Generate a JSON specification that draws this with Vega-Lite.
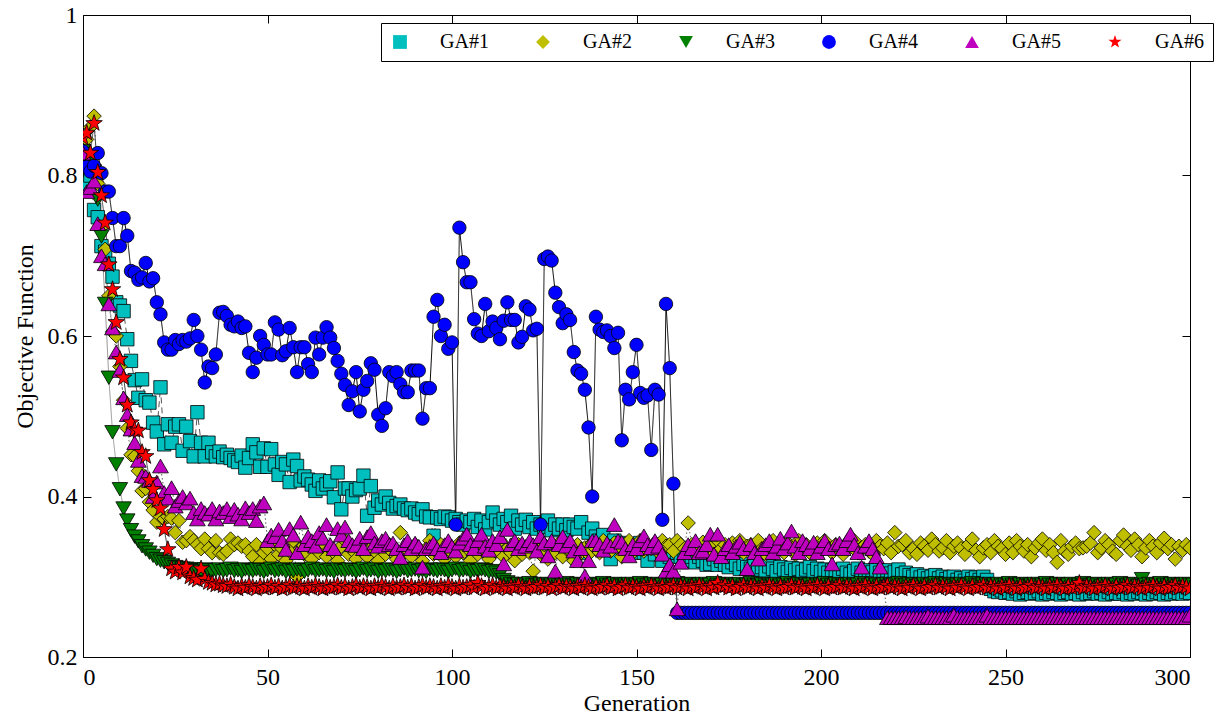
{
"$schema": "https://vega.github.io/schema/vega-lite/v6.json",
"width": 1107, "height": 642,
"autosize": {"type": "none"},
"padding": {"left": 83, "top": 15, "right": 31, "bottom": 60},
"background": "white",
"config": {
  "view": {"stroke": "black", "strokeWidth": 1},
  "font": "Liberation Serif",
  "axis": {"domainColor": "black", "domainWidth": 1, "tickColor": "black", "tickWidth": 1, "labelColor": "black", "titleColor": "black", "grid": false, "labelFont": "Liberation Serif", "titleFont": "Liberation Serif", "labelFontSize": 24, "titleFontSize": 24, "titleFontWeight": "normal", "tickSize": -8}
},
"data": {"values": [
{"g":0,"a":0.830,"b":0.830,"c":0.830,"d":0.830,"e":0.828,"f":0.847},
{"g":1,"a":0.790,"b":0.845,"c":0.822,"d":0.811,"e":0.780,"f":0.853},
{"g":2,"a":0.800,"b":0.860,"c":0.815,"d":0.805,"e":0.785,"f":0.828},
{"g":3,"a":0.757,"b":0.874,"c":0.805,"d":0.812,"e":0.793,"f":0.865},
{"g":4,"a":0.748,"b":0.790,"c":0.770,"d":0.828,"e":0.740,"f":0.804},
{"g":5,"a":0.712,"b":0.735,"c":0.724,"d":0.803,"e":0.700,"f":0.775},
{"g":6,"a":0.705,"b":0.708,"c":0.640,"d":0.780,"e":0.690,"f":0.741},
{"g":7,"a":0.690,"b":0.650,"c":0.548,"d":0.780,"e":0.640,"f":0.689},
{"g":8,"a":0.674,"b":0.605,"c":0.480,"d":0.747,"e":0.610,"f":0.658},
{"g":9,"a":0.642,"b":0.600,"c":0.440,"d":0.712,"e":0.580,"f":0.617},
{"g":10,"a":0.638,"b":0.562,"c":0.409,"d":0.712,"e":0.557,"f":0.571},
{"g":11,"a":0.631,"b":0.520,"c":0.385,"d":0.747,"e":0.523,"f":0.548},
{"g":12,"a":0.596,"b":0.485,"c":0.370,"d":0.725,"e":0.502,"f":0.514},
{"g":13,"a":0.569,"b":0.452,"c":0.358,"d":0.681,"e":0.484,"f":0.492},
{"g":14,"a":0.545,"b":0.450,"c":0.350,"d":0.679,"e":0.467,"f":0.483},
{"g":15,"a":0.523,"b":0.432,"c":0.344,"d":0.670,"e":0.445,"f":0.482},
{"g":16,"a":0.546,"b":0.407,"c":0.338,"d":0.673,"e":0.426,"f":0.455},
{"g":17,"a":0.520,"b":0.410,"c":0.334,"d":0.691,"e":0.425,"f":0.450},
{"g":18,"a":0.517,"b":0.393,"c":0.330,"d":0.668,"e":0.420,"f":0.420},
{"g":19,"a":0.492,"b":0.383,"c":0.326,"d":0.672,"e":0.400,"f":0.409},
{"g":20,"a":0.481,"b":0.368,"c":0.322,"d":0.642,"e":0.418,"f":0.395},
{"g":21,"a":0.536,"b":0.375,"c":0.320,"d":0.627,"e":0.438,"f":0.385},
{"g":22,"a":0.465,"b":0.372,"c":0.318,"d":0.592,"e":0.405,"f":0.359},
{"g":23,"a":0.490,"b":0.375,"c":0.316,"d":0.583,"e":0.398,"f":0.334},
{"g":24,"a":0.467,"b":0.373,"c":0.314,"d":0.583,"e":0.411,"f":0.310},
{"g":25,"a":0.487,"b":0.355,"c":0.312,"d":0.595,"e":0.388,"f":0.306},
{"g":26,"a":0.490,"b":0.370,"c":0.311,"d":0.590,"e":0.395,"f":0.312},
{"g":27,"a":0.457,"b":0.343,"c":0.310,"d":0.595,"e":0.400,"f":0.305},
{"g":28,"a":0.487,"b":0.345,"c":0.310,"d":0.593,"e":0.392,"f":0.312},
{"g":29,"a":0.469,"b":0.350,"c":0.309,"d":0.597,"e":0.398,"f":0.300},
{"g":30,"a":0.450,"b":0.345,"c":0.309,"d":0.620,"e":0.380,"f":0.298},
{"g":31,"a":0.505,"b":0.340,"c":0.308,"d":0.600,"e":0.372,"f":0.296},
{"g":32,"a":0.467,"b":0.335,"c":0.307,"d":0.583,"e":0.385,"f":0.310},
{"g":33,"a":0.450,"b":0.347,"c":0.309,"d":0.542,"e":0.380,"f":0.297},
{"g":34,"a":0.467,"b":0.335,"c":0.308,"d":0.562,"e":0.378,"f":0.293},
{"g":35,"a":0.455,"b":0.330,"c":0.306,"d":0.560,"e":0.385,"f":0.292},
{"g":36,"a":0.450,"b":0.345,"c":0.308,"d":0.577,"e":0.372,"f":0.290},
{"g":37,"a":0.456,"b":0.330,"c":0.309,"d":0.629,"e":0.382,"f":0.291},
{"g":38,"a":0.449,"b":0.328,"c":0.307,"d":0.630,"e":0.380,"f":0.289},
{"g":39,"a":0.452,"b":0.332,"c":0.308,"d":0.625,"e":0.385,"f":0.288},
{"g":40,"a":0.448,"b":0.347,"c":0.310,"d":0.614,"e":0.375,"f":0.290},
{"g":41,"a":0.445,"b":0.340,"c":0.307,"d":0.612,"e":0.384,"f":0.287},
{"g":42,"a":0.443,"b":0.342,"c":0.308,"d":0.618,"e":0.378,"f":0.285},
{"g":43,"a":0.451,"b":0.338,"c":0.306,"d":0.610,"e":0.372,"f":0.288},
{"g":44,"a":0.436,"b":0.340,"c":0.309,"d":0.612,"e":0.386,"f":0.286},
{"g":45,"a":0.448,"b":0.332,"c":0.308,"d":0.579,"e":0.380,"f":0.289},
{"g":46,"a":0.465,"b":0.325,"c":0.307,"d":0.555,"e":0.385,"f":0.287},
{"g":47,"a":0.455,"b":0.340,"c":0.309,"d":0.573,"e":0.370,"f":0.285},
{"g":48,"a":0.437,"b":0.318,"c":0.308,"d":0.600,"e":0.388,"f":0.288},
{"g":49,"a":0.460,"b":0.330,"c":0.306,"d":0.589,"e":0.392,"f":0.286},
{"g":50,"a":0.437,"b":0.335,"c":0.308,"d":0.577,"e":0.345,"f":0.287},
{"g":51,"a":0.459,"b":0.322,"c":0.310,"d":0.577,"e":0.352,"f":0.289},
{"g":52,"a":0.440,"b":0.340,"c":0.307,"d":0.617,"e":0.350,"f":0.286},
{"g":53,"a":0.427,"b":0.328,"c":0.308,"d":0.608,"e":0.359,"f":0.288},
{"g":54,"a":0.443,"b":0.335,"c":0.309,"d":0.576,"e":0.345,"f":0.285},
{"g":55,"a":0.440,"b":0.320,"c":0.306,"d":0.581,"e":0.334,"f":0.287},
{"g":56,"a":0.418,"b":0.332,"c":0.308,"d":0.610,"e":0.360,"f":0.289},
{"g":57,"a":0.446,"b":0.345,"c":0.307,"d":0.586,"e":0.352,"f":0.286},
{"g":58,"a":0.438,"b":0.300,"c":0.309,"d":0.555,"e":0.330,"f":0.288},
{"g":59,"a":0.420,"b":0.335,"c":0.308,"d":0.586,"e":0.368,"f":0.287},
{"g":60,"a":0.425,"b":0.328,"c":0.306,"d":0.586,"e":0.340,"f":0.285},
{"g":61,"a":0.421,"b":0.340,"c":0.308,"d":0.565,"e":0.350,"f":0.288},
{"g":62,"a":0.415,"b":0.322,"c":0.310,"d":0.555,"e":0.345,"f":0.286},
{"g":63,"a":0.407,"b":0.336,"c":0.307,"d":0.598,"e":0.338,"f":0.289},
{"g":64,"a":0.420,"b":0.330,"c":0.308,"d":0.577,"e":0.355,"f":0.287},
{"g":65,"a":0.410,"b":0.342,"c":0.309,"d":0.598,"e":0.348,"f":0.285},
{"g":66,"a":0.415,"b":0.325,"c":0.307,"d":0.611,"e":0.365,"f":0.288},
{"g":67,"a":0.419,"b":0.335,"c":0.308,"d":0.598,"e":0.340,"f":0.286},
{"g":68,"a":0.399,"b":0.330,"c":0.306,"d":0.585,"e":0.335,"f":0.287},
{"g":69,"a":0.430,"b":0.320,"c":0.309,"d":0.569,"e":0.360,"f":0.289},
{"g":70,"a":0.384,"b":0.338,"c":0.308,"d":0.553,"e":0.352,"f":0.286},
{"g":71,"a":0.410,"b":0.345,"c":0.307,"d":0.539,"e":0.362,"f":0.288},
{"g":72,"a":0.410,"b":0.328,"c":0.309,"d":0.514,"e":0.345,"f":0.285},
{"g":73,"a":0.400,"b":0.333,"c":0.308,"d":0.531,"e":0.340,"f":0.287},
{"g":74,"a":0.408,"b":0.322,"c":0.306,"d":0.555,"e":0.339,"f":0.289},
{"g":75,"a":0.410,"b":0.340,"c":0.308,"d":0.506,"e":0.348,"f":0.286},
{"g":76,"a":0.426,"b":0.330,"c":0.310,"d":0.533,"e":0.335,"f":0.288},
{"g":77,"a":0.376,"b":0.325,"c":0.307,"d":0.544,"e":0.350,"f":0.287},
{"g":78,"a":0.413,"b":0.342,"c":0.308,"d":0.566,"e":0.355,"f":0.285},
{"g":79,"a":0.386,"b":0.332,"c":0.309,"d":0.558,"e":0.342,"f":0.288},
{"g":80,"a":0.395,"b":0.320,"c":0.306,"d":0.502,"e":0.338,"f":0.286},
{"g":81,"a":0.390,"b":0.335,"c":0.308,"d":0.488,"e":0.345,"f":0.289},
{"g":82,"a":0.400,"b":0.328,"c":0.307,"d":0.510,"e":0.348,"f":0.287},
{"g":83,"a":0.392,"b":0.340,"c":0.309,"d":0.555,"e":0.340,"f":0.285},
{"g":84,"a":0.385,"b":0.330,"c":0.308,"d":0.550,"e":0.342,"f":0.288},
{"g":85,"a":0.388,"b":0.322,"c":0.306,"d":0.555,"e":0.335,"f":0.286},
{"g":86,"a":0.390,"b":0.355,"c":0.308,"d":0.540,"e":0.324,"f":0.287},
{"g":87,"a":0.385,"b":0.330,"c":0.310,"d":0.530,"e":0.340,"f":0.289},
{"g":88,"a":0.383,"b":0.338,"c":0.307,"d":0.530,"e":0.345,"f":0.286},
{"g":89,"a":0.385,"b":0.325,"c":0.308,"d":0.557,"e":0.335,"f":0.288},
{"g":90,"a":0.380,"b":0.340,"c":0.309,"d":0.557,"e":0.342,"f":0.285},
{"g":91,"a":0.378,"b":0.332,"c":0.307,"d":0.557,"e":0.338,"f":0.287},
{"g":92,"a":0.384,"b":0.320,"c":0.308,"d":0.497,"e":0.312,"f":0.289},
{"g":93,"a":0.375,"b":0.335,"c":0.306,"d":0.535,"e":0.335,"f":0.286},
{"g":94,"a":0.374,"b":0.345,"c":0.309,"d":0.535,"e":0.338,"f":0.288},
{"g":95,"a":0.351,"b":0.328,"c":0.308,"d":0.624,"e":0.342,"f":0.287},
{"g":96,"a":0.374,"b":0.330,"c":0.307,"d":0.645,"e":0.335,"f":0.285},
{"g":97,"a":0.372,"b":0.340,"c":0.309,"d":0.600,"e":0.330,"f":0.288},
{"g":98,"a":0.375,"b":0.322,"c":0.308,"d":0.614,"e":0.340,"f":0.286},
{"g":99,"a":0.374,"b":0.335,"c":0.306,"d":0.584,"e":0.345,"f":0.289},
{"g":100,"a":0.370,"b":0.330,"c":0.308,"d":0.592,"e":0.338,"f":0.287},
{"g":101,"a":0.372,"b":0.325,"c":0.310,"d":0.365,"e":0.332,"f":0.285},
{"g":102,"a":0.368,"b":0.342,"c":0.307,"d":0.735,"e":0.342,"f":0.288},
{"g":103,"a":0.365,"b":0.330,"c":0.308,"d":0.692,"e":0.348,"f":0.286},
{"g":104,"a":0.370,"b":0.336,"c":0.309,"d":0.667,"e":0.353,"f":0.287},
{"g":105,"a":0.368,"b":0.320,"c":0.306,"d":0.667,"e":0.340,"f":0.289},
{"g":106,"a":0.372,"b":0.334,"c":0.308,"d":0.621,"e":0.335,"f":0.286},
{"g":107,"a":0.362,"b":0.328,"c":0.307,"d":0.603,"e":0.345,"f":0.292},
{"g":108,"a":0.370,"b":0.340,"c":0.309,"d":0.600,"e":0.353,"f":0.288},
{"g":109,"a":0.359,"b":0.330,"c":0.308,"d":0.640,"e":0.338,"f":0.285},
{"g":110,"a":0.368,"b":0.322,"c":0.306,"d":0.606,"e":0.333,"f":0.287},
{"g":111,"a":0.380,"b":0.338,"c":0.307,"d":0.618,"e":0.345,"f":0.289},
{"g":112,"a":0.370,"b":0.332,"c":0.305,"d":0.610,"e":0.340,"f":0.286},
{"g":113,"a":0.365,"b":0.345,"c":0.302,"d":0.596,"e":0.350,"f":0.288},
{"g":114,"a":0.372,"b":0.325,"c":0.296,"d":0.619,"e":0.316,"f":0.287},
{"g":115,"a":0.368,"b":0.335,"c":0.293,"d":0.642,"e":0.359,"f":0.285},
{"g":116,"a":0.376,"b":0.330,"c":0.291,"d":0.620,"e":0.340,"f":0.288},
{"g":117,"a":0.360,"b":0.320,"c":0.290,"d":0.620,"e":0.345,"f":0.286},
{"g":118,"a":0.370,"b":0.340,"c":0.291,"d":0.592,"e":0.335,"f":0.289},
{"g":119,"a":0.365,"b":0.328,"c":0.289,"d":0.599,"e":0.342,"f":0.287},
{"g":120,"a":0.371,"b":0.335,"c":0.290,"d":0.637,"e":0.338,"f":0.285},
{"g":121,"a":0.362,"b":0.330,"c":0.292,"d":0.633,"e":0.345,"f":0.288},
{"g":122,"a":0.368,"b":0.307,"c":0.290,"d":0.607,"e":0.340,"f":0.286},
{"g":123,"a":0.360,"b":0.335,"c":0.289,"d":0.609,"e":0.332,"f":0.287},
{"g":124,"a":0.365,"b":0.328,"c":0.291,"d":0.365,"e":0.350,"f":0.289},
{"g":125,"a":0.362,"b":0.340,"c":0.290,"d":0.696,"e":0.342,"f":0.286},
{"g":126,"a":0.370,"b":0.322,"c":0.288,"d":0.699,"e":0.326,"f":0.288},
{"g":127,"a":0.358,"b":0.336,"c":0.290,"d":0.694,"e":0.345,"f":0.285},
{"g":128,"a":0.365,"b":0.330,"c":0.291,"d":0.654,"e":0.307,"f":0.287},
{"g":129,"a":0.360,"b":0.342,"c":0.289,"d":0.636,"e":0.340,"f":0.289},
{"g":130,"a":0.365,"b":0.325,"c":0.290,"d":0.616,"e":0.350,"f":0.286},
{"g":131,"a":0.358,"b":0.335,"c":0.292,"d":0.627,"e":0.338,"f":0.288},
{"g":132,"a":0.365,"b":0.332,"c":0.290,"d":0.620,"e":0.345,"f":0.287},
{"g":133,"a":0.362,"b":0.320,"c":0.289,"d":0.580,"e":0.332,"f":0.285},
{"g":134,"a":0.360,"b":0.340,"c":0.291,"d":0.557,"e":0.320,"f":0.288},
{"g":135,"a":0.368,"b":0.330,"c":0.290,"d":0.553,"e":0.335,"f":0.286},
{"g":136,"a":0.330,"b":0.336,"c":0.288,"d":0.533,"e":0.301,"f":0.289},
{"g":137,"a":0.355,"b":0.328,"c":0.290,"d":0.486,"e":0.320,"f":0.287},
{"g":138,"a":0.360,"b":0.342,"c":0.291,"d":0.400,"e":0.345,"f":0.285},
{"g":139,"a":0.350,"b":0.335,"c":0.289,"d":0.624,"e":0.345,"f":0.288},
{"g":140,"a":0.345,"b":0.330,"c":0.290,"d":0.608,"e":0.340,"f":0.286},
{"g":141,"a":0.352,"b":0.345,"c":0.292,"d":0.605,"e":0.333,"f":0.287},
{"g":142,"a":0.340,"b":0.338,"c":0.290,"d":0.607,"e":0.342,"f":0.289},
{"g":143,"a":0.322,"b":0.332,"c":0.289,"d":0.600,"e":0.338,"f":0.286},
{"g":144,"a":0.345,"b":0.342,"c":0.291,"d":0.585,"e":0.365,"f":0.288},
{"g":145,"a":0.338,"b":0.335,"c":0.290,"d":0.604,"e":0.345,"f":0.285},
{"g":146,"a":0.342,"b":0.325,"c":0.288,"d":0.470,"e":0.343,"f":0.287},
{"g":147,"a":0.335,"b":0.340,"c":0.290,"d":0.533,"e":0.335,"f":0.289},
{"g":148,"a":0.340,"b":0.345,"c":0.291,"d":0.521,"e":0.326,"f":0.286},
{"g":149,"a":0.330,"b":0.330,"c":0.289,"d":0.555,"e":0.340,"f":0.288},
{"g":150,"a":0.335,"b":0.338,"c":0.290,"d":0.589,"e":0.335,"f":0.287},
{"g":151,"a":0.342,"b":0.345,"c":0.292,"d":0.529,"e":0.345,"f":0.285},
{"g":152,"a":0.330,"b":0.332,"c":0.290,"d":0.523,"e":0.351,"f":0.288},
{"g":153,"a":0.320,"b":0.340,"c":0.289,"d":0.526,"e":0.340,"f":0.286},
{"g":154,"a":0.335,"b":0.335,"c":0.291,"d":0.458,"e":0.336,"f":0.289},
{"g":155,"a":0.328,"b":0.342,"c":0.290,"d":0.533,"e":0.345,"f":0.287},
{"g":156,"a":0.340,"b":0.330,"c":0.288,"d":0.527,"e":0.338,"f":0.285},
{"g":157,"a":0.320,"b":0.345,"c":0.290,"d":0.371,"e":0.328,"f":0.288},
{"g":158,"a":0.335,"b":0.338,"c":0.291,"d":0.640,"e":0.307,"f":0.286},
{"g":159,"a":0.325,"b":0.340,"c":0.289,"d":0.560,"e":0.315,"f":0.287},
{"g":160,"a":0.330,"b":0.332,"c":0.290,"d":0.416,"e":0.307,"f":0.289},
{"g":161,"a":0.330,"b":0.345,"c":0.292,"d":0.255,"e":0.260,"f":0.286},
{"g":162,"a":0.325,"b":0.340,"c":0.290,"d":0.255,"e":0.318,"f":0.288},
{"g":163,"a":0.320,"b":0.335,"c":0.289,"d":0.255,"e":0.330,"f":0.287},
{"g":164,"a":0.330,"b":0.367,"c":0.291,"d":0.255,"e":0.340,"f":0.285},
{"g":165,"a":0.325,"b":0.340,"c":0.290,"d":0.255,"e":0.335,"f":0.288},
{"g":166,"a":0.318,"b":0.330,"c":0.288,"d":0.255,"e":0.345,"f":0.286},
{"g":167,"a":0.325,"b":0.338,"c":0.290,"d":0.255,"e":0.330,"f":0.289},
{"g":168,"a":0.320,"b":0.343,"c":0.291,"d":0.255,"e":0.332,"f":0.287},
{"g":169,"a":0.315,"b":0.332,"c":0.289,"d":0.255,"e":0.340,"f":0.285},
{"g":170,"a":0.316,"b":0.340,"c":0.290,"d":0.255,"e":0.353,"f":0.288},
{"g":171,"a":0.322,"b":0.328,"c":0.292,"d":0.255,"e":0.328,"f":0.286},
{"g":172,"a":0.315,"b":0.345,"c":0.290,"d":0.255,"e":0.353,"f":0.292},
{"g":173,"a":0.320,"b":0.335,"c":0.289,"d":0.255,"e":0.325,"f":0.287},
{"g":174,"a":0.315,"b":0.340,"c":0.291,"d":0.255,"e":0.335,"f":0.289},
{"g":175,"a":0.312,"b":0.330,"c":0.290,"d":0.255,"e":0.340,"f":0.286},
{"g":176,"a":0.318,"b":0.342,"c":0.288,"d":0.255,"e":0.330,"f":0.288},
{"g":177,"a":0.315,"b":0.336,"c":0.290,"d":0.255,"e":0.338,"f":0.285},
{"g":178,"a":0.310,"b":0.345,"c":0.291,"d":0.255,"e":0.343,"f":0.287},
{"g":179,"a":0.316,"b":0.330,"c":0.289,"d":0.255,"e":0.335,"f":0.289},
{"g":180,"a":0.312,"b":0.338,"c":0.290,"d":0.255,"e":0.310,"f":0.286},
{"g":181,"a":0.310,"b":0.340,"c":0.292,"d":0.255,"e":0.340,"f":0.288},
{"g":182,"a":0.314,"b":0.332,"c":0.290,"d":0.255,"e":0.330,"f":0.287},
{"g":183,"a":0.309,"b":0.345,"c":0.289,"d":0.255,"e":0.322,"f":0.285},
{"g":184,"a":0.312,"b":0.335,"c":0.291,"d":0.255,"e":0.335,"f":0.288},
{"g":185,"a":0.308,"b":0.328,"c":0.290,"d":0.255,"e":0.340,"f":0.286},
{"g":186,"a":0.313,"b":0.340,"c":0.288,"d":0.255,"e":0.345,"f":0.289},
{"g":187,"a":0.310,"b":0.345,"c":0.290,"d":0.255,"e":0.330,"f":0.287},
{"g":188,"a":0.307,"b":0.332,"c":0.291,"d":0.255,"e":0.338,"f":0.285},
{"g":189,"a":0.312,"b":0.338,"c":0.289,"d":0.255,"e":0.348,"f":0.288},
{"g":190,"a":0.309,"b":0.330,"c":0.290,"d":0.255,"e":0.335,"f":0.286},
{"g":191,"a":0.306,"b":0.342,"c":0.292,"d":0.255,"e":0.342,"f":0.287},
{"g":192,"a":0.311,"b":0.336,"c":0.290,"d":0.255,"e":0.357,"f":0.289},
{"g":193,"a":0.308,"b":0.328,"c":0.289,"d":0.255,"e":0.338,"f":0.286},
{"g":194,"a":0.310,"b":0.345,"c":0.291,"d":0.255,"e":0.330,"f":0.288},
{"g":195,"a":0.306,"b":0.335,"c":0.290,"d":0.255,"e":0.345,"f":0.287},
{"g":196,"a":0.309,"b":0.340,"c":0.288,"d":0.255,"e":0.340,"f":0.285},
{"g":197,"a":0.312,"b":0.330,"c":0.290,"d":0.255,"e":0.335,"f":0.288},
{"g":198,"a":0.307,"b":0.338,"c":0.291,"d":0.255,"e":0.343,"f":0.286},
{"g":199,"a":0.310,"b":0.342,"c":0.289,"d":0.255,"e":0.330,"f":0.289},
{"g":200,"a":0.306,"b":0.332,"c":0.290,"d":0.255,"e":0.338,"f":0.287},
{"g":201,"a":0.309,"b":0.345,"c":0.292,"d":0.255,"e":0.345,"f":0.285},
{"g":202,"a":0.305,"b":0.336,"c":0.290,"d":0.255,"e":0.335,"f":0.288},
{"g":203,"a":0.308,"b":0.330,"c":0.289,"d":0.255,"e":0.316,"f":0.286},
{"g":204,"a":0.304,"b":0.340,"c":0.291,"d":0.255,"e":0.340,"f":0.287},
{"g":205,"a":0.307,"b":0.335,"c":0.290,"d":0.255,"e":0.342,"f":0.289},
{"g":206,"a":0.310,"b":0.328,"c":0.288,"d":0.255,"e":0.335,"f":0.286},
{"g":207,"a":0.305,"b":0.342,"c":0.290,"d":0.255,"e":0.345,"f":0.288},
{"g":208,"a":0.303,"b":0.338,"c":0.291,"d":0.255,"e":0.353,"f":0.287},
{"g":209,"a":0.307,"b":0.345,"c":0.289,"d":0.255,"e":0.340,"f":0.285},
{"g":210,"a":0.310,"b":0.330,"c":0.290,"d":0.255,"e":0.330,"f":0.288},
{"g":211,"a":0.305,"b":0.336,"c":0.292,"d":0.255,"e":0.312,"f":0.286},
{"g":212,"a":0.308,"b":0.340,"c":0.290,"d":0.255,"e":0.338,"f":0.289},
{"g":213,"a":0.304,"b":0.332,"c":0.289,"d":0.255,"e":0.345,"f":0.287},
{"g":214,"a":0.306,"b":0.328,"c":0.291,"d":0.255,"e":0.335,"f":0.285},
{"g":215,"a":0.309,"b":0.345,"c":0.290,"d":0.255,"e":0.325,"f":0.288},
{"g":216,"a":0.305,"b":0.338,"c":0.288,"d":0.255,"e":0.312,"f":0.286},
{"g":217,"a":0.307,"b":0.335,"c":0.290,"d":0.255,"e":0.290,"f":0.287},
{"g":218,"a":0.308,"b":0.342,"c":0.291,"d":0.255,"e":0.249,"f":0.289},
{"g":219,"a":0.304,"b":0.330,"c":0.289,"d":0.255,"e":0.249,"f":0.286},
{"g":220,"a":0.306,"b":0.355,"c":0.290,"d":0.255,"e":0.249,"f":0.288},
{"g":221,"a":0.309,"b":0.338,"c":0.292,"d":0.255,"e":0.249,"f":0.287},
{"g":222,"a":0.303,"b":0.340,"c":0.290,"d":0.255,"e":0.249,"f":0.285},
{"g":223,"a":0.305,"b":0.345,"c":0.289,"d":0.255,"e":0.250,"f":0.288},
{"g":224,"a":0.302,"b":0.330,"c":0.291,"d":0.255,"e":0.249,"f":0.286},
{"g":225,"a":0.300,"b":0.335,"c":0.290,"d":0.255,"e":0.249,"f":0.289},
{"g":226,"a":0.303,"b":0.328,"c":0.288,"d":0.255,"e":0.249,"f":0.287},
{"g":227,"a":0.299,"b":0.342,"c":0.290,"d":0.255,"e":0.249,"f":0.285},
{"g":228,"a":0.301,"b":0.338,"c":0.291,"d":0.255,"e":0.249,"f":0.288},
{"g":229,"a":0.298,"b":0.333,"c":0.289,"d":0.255,"e":0.251,"f":0.286},
{"g":230,"a":0.300,"b":0.347,"c":0.290,"d":0.255,"e":0.249,"f":0.287},
{"g":231,"a":0.302,"b":0.340,"c":0.292,"d":0.255,"e":0.249,"f":0.289},
{"g":232,"a":0.298,"b":0.332,"c":0.290,"d":0.255,"e":0.249,"f":0.286},
{"g":233,"a":0.300,"b":0.336,"c":0.289,"d":0.255,"e":0.249,"f":0.288},
{"g":234,"a":0.297,"b":0.345,"c":0.291,"d":0.255,"e":0.249,"f":0.287},
{"g":235,"a":0.299,"b":0.330,"c":0.290,"d":0.255,"e":0.249,"f":0.285},
{"g":236,"a":0.300,"b":0.338,"c":0.288,"d":0.255,"e":0.252,"f":0.288},
{"g":237,"a":0.296,"b":0.342,"c":0.290,"d":0.255,"e":0.249,"f":0.286},
{"g":238,"a":0.298,"b":0.335,"c":0.291,"d":0.255,"e":0.249,"f":0.289},
{"g":239,"a":0.295,"b":0.328,"c":0.289,"d":0.255,"e":0.249,"f":0.287},
{"g":240,"a":0.300,"b":0.340,"c":0.290,"d":0.255,"e":0.249,"f":0.285},
{"g":241,"a":0.297,"b":0.347,"c":0.292,"d":0.255,"e":0.249,"f":0.288},
{"g":242,"a":0.299,"b":0.333,"c":0.290,"d":0.255,"e":0.249,"f":0.286},
{"g":243,"a":0.296,"b":0.325,"c":0.289,"d":0.255,"e":0.249,"f":0.287},
{"g":244,"a":0.300,"b":0.336,"c":0.291,"d":0.255,"e":0.249,"f":0.289},
{"g":245,"a":0.296,"b":0.340,"c":0.290,"d":0.255,"e":0.252,"f":0.286},
{"g":246,"a":0.285,"b":0.330,"c":0.288,"d":0.255,"e":0.249,"f":0.288},
{"g":247,"a":0.282,"b":0.345,"c":0.290,"d":0.255,"e":0.249,"f":0.287},
{"g":248,"a":0.281,"b":0.338,"c":0.291,"d":0.255,"e":0.249,"f":0.285},
{"g":249,"a":0.283,"b":0.335,"c":0.289,"d":0.255,"e":0.249,"f":0.288},
{"g":250,"a":0.280,"b":0.328,"c":0.290,"d":0.255,"e":0.249,"f":0.286},
{"g":251,"a":0.281,"b":0.342,"c":0.292,"d":0.255,"e":0.249,"f":0.289},
{"g":252,"a":0.279,"b":0.330,"c":0.290,"d":0.255,"e":0.249,"f":0.287},
{"g":253,"a":0.282,"b":0.345,"c":0.289,"d":0.255,"e":0.249,"f":0.285},
{"g":254,"a":0.278,"b":0.338,"c":0.291,"d":0.255,"e":0.249,"f":0.288},
{"g":255,"a":0.280,"b":0.332,"c":0.290,"d":0.255,"e":0.249,"f":0.286},
{"g":256,"a":0.281,"b":0.340,"c":0.288,"d":0.255,"e":0.249,"f":0.287},
{"g":257,"a":0.279,"b":0.325,"c":0.290,"d":0.255,"e":0.249,"f":0.289},
{"g":258,"a":0.280,"b":0.336,"c":0.291,"d":0.255,"e":0.249,"f":0.286},
{"g":259,"a":0.282,"b":0.342,"c":0.289,"d":0.255,"e":0.249,"f":0.288},
{"g":260,"a":0.278,"b":0.347,"c":0.290,"d":0.255,"e":0.249,"f":0.287},
{"g":261,"a":0.280,"b":0.333,"c":0.292,"d":0.255,"e":0.249,"f":0.285},
{"g":262,"a":0.279,"b":0.340,"c":0.290,"d":0.255,"e":0.249,"f":0.288},
{"g":263,"a":0.281,"b":0.330,"c":0.289,"d":0.255,"e":0.249,"f":0.286},
{"g":264,"a":0.280,"b":0.318,"c":0.291,"d":0.255,"e":0.249,"f":0.289},
{"g":265,"a":0.278,"b":0.345,"c":0.290,"d":0.255,"e":0.249,"f":0.287},
{"g":266,"a":0.280,"b":0.332,"c":0.288,"d":0.255,"e":0.249,"f":0.285},
{"g":267,"a":0.281,"b":0.328,"c":0.290,"d":0.255,"e":0.249,"f":0.288},
{"g":268,"a":0.279,"b":0.338,"c":0.291,"d":0.255,"e":0.249,"f":0.286},
{"g":269,"a":0.280,"b":0.342,"c":0.289,"d":0.255,"e":0.249,"f":0.287},
{"g":270,"a":0.278,"b":0.335,"c":0.290,"d":0.255,"e":0.249,"f":0.292},
{"g":271,"a":0.281,"b":0.336,"c":0.292,"d":0.255,"e":0.249,"f":0.286},
{"g":272,"a":0.279,"b":0.338,"c":0.290,"d":0.255,"e":0.249,"f":0.288},
{"g":273,"a":0.280,"b":0.342,"c":0.289,"d":0.255,"e":0.249,"f":0.287},
{"g":274,"a":0.282,"b":0.355,"c":0.291,"d":0.255,"e":0.249,"f":0.285},
{"g":275,"a":0.279,"b":0.330,"c":0.290,"d":0.255,"e":0.249,"f":0.288},
{"g":276,"a":0.280,"b":0.336,"c":0.288,"d":0.255,"e":0.249,"f":0.286},
{"g":277,"a":0.278,"b":0.345,"c":0.290,"d":0.255,"e":0.249,"f":0.289},
{"g":278,"a":0.281,"b":0.340,"c":0.291,"d":0.255,"e":0.249,"f":0.287},
{"g":279,"a":0.279,"b":0.332,"c":0.289,"d":0.255,"e":0.249,"f":0.285},
{"g":280,"a":0.280,"b":0.328,"c":0.290,"d":0.255,"e":0.249,"f":0.288},
{"g":281,"a":0.279,"b":0.345,"c":0.292,"d":0.255,"e":0.249,"f":0.286},
{"g":282,"a":0.281,"b":0.352,"c":0.290,"d":0.255,"e":0.249,"f":0.287},
{"g":283,"a":0.278,"b":0.338,"c":0.289,"d":0.255,"e":0.249,"f":0.289},
{"g":284,"a":0.280,"b":0.333,"c":0.291,"d":0.255,"e":0.249,"f":0.286},
{"g":285,"a":0.279,"b":0.347,"c":0.290,"d":0.255,"e":0.249,"f":0.288},
{"g":286,"a":0.281,"b":0.340,"c":0.288,"d":0.255,"e":0.249,"f":0.287},
{"g":287,"a":0.280,"b":0.325,"c":0.297,"d":0.255,"e":0.249,"f":0.285},
{"g":288,"a":0.278,"b":0.336,"c":0.290,"d":0.255,"e":0.249,"f":0.288},
{"g":289,"a":0.280,"b":0.345,"c":0.291,"d":0.255,"e":0.249,"f":0.286},
{"g":290,"a":0.279,"b":0.338,"c":0.289,"d":0.255,"e":0.249,"f":0.289},
{"g":291,"a":0.281,"b":0.330,"c":0.290,"d":0.255,"e":0.249,"f":0.287},
{"g":292,"a":0.280,"b":0.342,"c":0.292,"d":0.255,"e":0.249,"f":0.285},
{"g":293,"a":0.278,"b":0.348,"c":0.290,"d":0.255,"e":0.249,"f":0.288},
{"g":294,"a":0.280,"b":0.335,"c":0.289,"d":0.255,"e":0.249,"f":0.286},
{"g":295,"a":0.279,"b":0.340,"c":0.291,"d":0.255,"e":0.249,"f":0.287},
{"g":296,"a":0.281,"b":0.322,"c":0.290,"d":0.255,"e":0.249,"f":0.289},
{"g":297,"a":0.280,"b":0.338,"c":0.288,"d":0.255,"e":0.249,"f":0.286},
{"g":298,"a":0.279,"b":0.333,"c":0.290,"d":0.255,"e":0.249,"f":0.288},
{"g":299,"a":0.281,"b":0.340,"c":0.291,"d":0.255,"e":0.249,"f":0.287},
{"g":300,"a":0.280,"b":0.336,"c":0.290,"d":0.255,"e":0.252,"f":0.285}
]},
"transform": [
  {"fold": ["a", "b", "c", "d", "e", "f"], "as": ["k", "v"]},
  {"lookup": "k", "from": {"data": {"values": [{"k": "a", "s": "GA#1"}, {"k": "b", "s": "GA#2"}, {"k": "c", "s": "GA#3"}, {"k": "d", "s": "GA#4"}, {"k": "e", "s": "GA#5"}, {"k": "f", "s": "GA#6"}]}, "key": "k", "fields": ["s"]}}
],
"layer": [
  {
    "mark": {"type": "line", "strokeWidth": 1, "clip": true},
    "encoding": {
      "x": {"field": "g", "type": "quantitative", "scale": {"domain": [0, 300], "nice": false}, "axis": {"orient": "top", "labels": false, "title": null, "values": [0, 50, 100, 150, 200, 250, 300], "domain": false}},
      "y": {"field": "v", "type": "quantitative", "scale": {"domain": [0.2, 1], "nice": false, "zero": false}, "axis": {"orient": "right", "labels": false, "title": null, "values": [0.2, 0.4, 0.6, 0.8, 1], "domain": false}},
      "stroke": {"field": "k", "type": "nominal", "scale": {"domain": ["a", "b", "c", "d", "e", "f"], "range": ["#555555", "#666666", "#999999", "#000000", "#555555", "#444444"]}, "legend": null},
      "strokeDash": {"field": "k", "type": "nominal", "scale": {"domain": ["a", "b", "c", "d", "e", "f"], "range": [[6, 4], [1.5, 2.5], [1, 0], [1, 0], [1.5, 2.5], [1, 0]]}, "legend": null}
    }
  },
  {
    "mark": {"type": "point", "filled": true, "opacity": 1, "stroke": "black", "strokeWidth": 0.8, "clip": true},
    "encoding": {
      "x": {"field": "g", "type": "quantitative", "scale": {"domain": [0, 300], "nice": false}, "axis": {"orient": "bottom", "title": "Generation", "values": [0, 50, 100, 150, 200, 250, 300], "labelPadding": 16, "titlePadding": 2, "domain": false}},
      "y": {"field": "v", "type": "quantitative", "scale": {"domain": [0.2, 1], "nice": false, "zero": false}, "axis": {"orient": "left", "title": "Objective Function", "values": [0.2, 0.4, 0.6, 0.8, 1], "format": "~g", "labelPadding": 14, "titlePadding": 10, "domain": false}},
      "color": {"field": "s", "type": "nominal", "scale": {"domain": ["GA#1", "GA#2", "GA#3", "GA#4", "GA#5", "GA#6"], "range": ["#00BFBF", "#BFBF00", "#008000", "#0000FF", "#BF00BF", "#FF0000"]},
        "legend": {"title": null, "orient": "none", "legendX": 298, "legendY": 8, "direction": "horizontal", "fillColor": "white", "strokeColor": "black", "padding": 9, "labelFont": "Liberation Serif", "labelFontSize": 20, "labelColor": "black", "symbolSize": 190, "symbolStrokeColor": "black", "symbolStrokeWidth": 1, "symbolOpacity": 1, "labelOffset": 30, "columnPadding": 44}},
      "shape": {"field": "s", "type": "nominal", "scale": {"domain": ["GA#1", "GA#2", "GA#3", "GA#4", "GA#5", "GA#6"], "range": ["square", "diamond", "triangle-down", "circle", "triangle-up", "M0,-1L0.235,-0.324L0.951,-0.309L0.38,0.124L0.588,0.809L0,0.4L-0.588,0.809L-0.38,0.124L-0.951,-0.309L-0.235,-0.324Z"]},
        "legend": {"title": null, "orient": "none", "legendX": 298, "legendY": 8, "direction": "horizontal", "fillColor": "white", "strokeColor": "black", "padding": 9, "labelFont": "Liberation Serif", "labelFontSize": 20, "labelColor": "black", "symbolSize": 190, "symbolStrokeColor": "black", "symbolStrokeWidth": 1, "symbolOpacity": 1, "labelOffset": 30, "columnPadding": 44}},
      "size": {"field": "k", "type": "nominal", "scale": {"type": "ordinal", "domain": ["a", "b", "c", "d", "e", "f"], "range": [180, 210, 240, 180, 250, 300]}, "legend": null},
      "order": {"field": "k", "type": "ordinal"}
    }
  }
],
"resolve": {"axis": {"x": "independent", "y": "independent"}}
}
